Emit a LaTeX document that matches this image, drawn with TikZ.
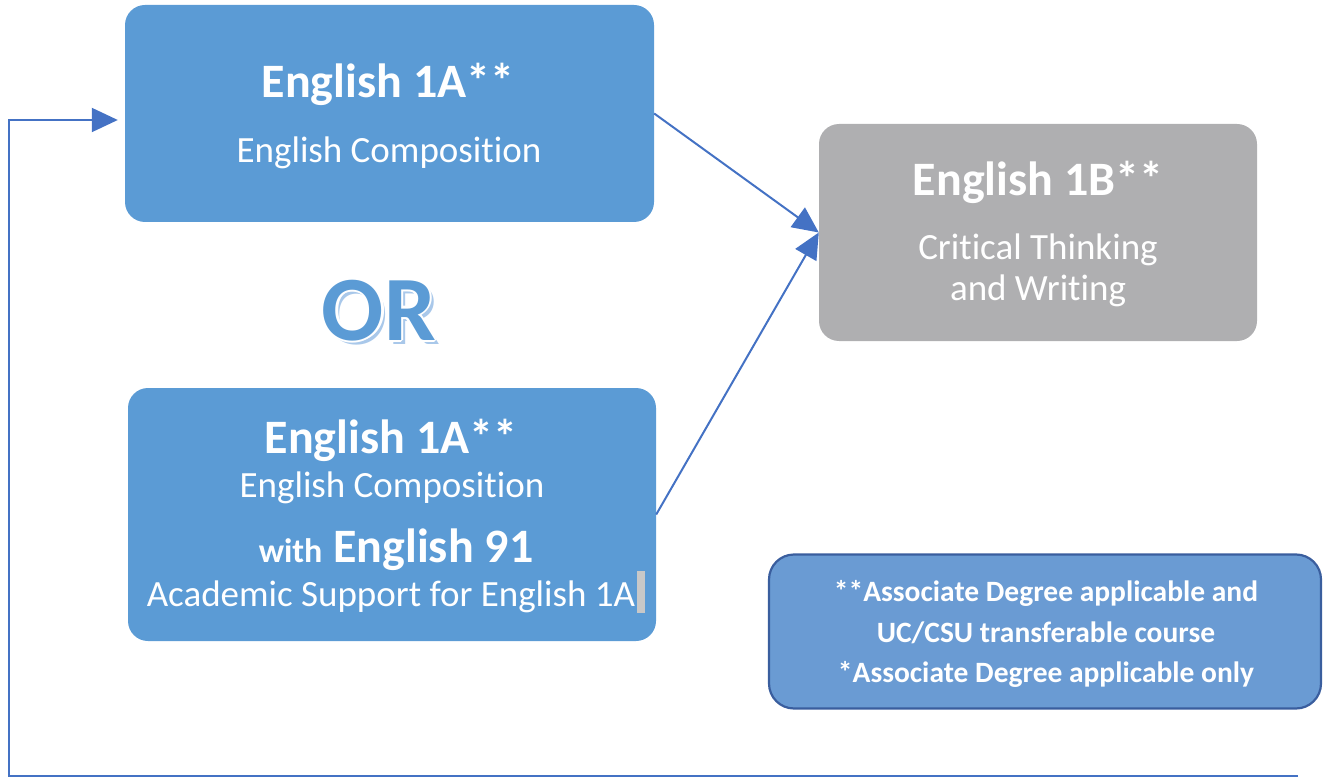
\documentclass[tikz,border=0pt]{standalone}
\usepackage{fontspec}
\setmainfont{Carlito}[Ligatures=NoCommon]
\usepackage{tikz}
\usetikzlibrary{arrows.meta}

\definecolor{boxblue}{HTML}{5B9BD5}
\definecolor{boxgray}{HTML}{AFAFB1}
\definecolor{linkblue}{HTML}{4472C4}
\definecolor{legendblue}{HTML}{6A9BD3}
\definecolor{legendedge}{HTML}{3A5E9E}
\definecolor{orshade}{HTML}{A9C8EA}
\definecolor{cursorgray}{HTML}{C8C8C8}

\tikzset{
  course/.style={fill=boxblue, rounded corners=20pt, inner sep=0pt},
  boxtext/.style={text=white, inner sep=0pt, anchor=base},
  link/.style={draw=linkblue, line width=2pt, -{Triangle[length=26pt,width=24pt]}},
  ortext/.style={inner sep=0pt, anchor=base, font=\fontsize{92}{92}\bfseries}
}

\begin{document}
\begin{tikzpicture}[x=1pt,y=-1pt]
  \useasboundingbox (0,0) rectangle (1323,778);

  \node[course, minimum width=529pt, minimum height=217pt] (eng1a) at (389.5,113.5) {}; % English 1A box
  \node[course, fill=boxgray, minimum width=438pt, minimum height=217pt] (eng1b) at (1038,232.5) {}; % English 1B box
  \node[course, minimum width=528pt, minimum height=253pt] (eng1asup) at (392,514.5) {}; % English 1A + 91 box
  \node[draw=legendedge, fill=legendblue, line width=2.2pt, rounded corners=25pt,
        minimum width=552pt, minimum height=154pt, inner sep=0pt] (legend) at (1045,631.5) {}; % legend box

  \node[boxtext, font=\fontsize{48}{54}\bfseries] (eng1atitle) at (388,98) {English 1A**};
  \node[boxtext, font=\fontsize{37}{42}\selectfont] (eng1aname) at (389,163) {English Composition};

  \node[boxtext, font=\fontsize{48}{54}\bfseries] (eng1btitle) at (1038,196) {English 1B**};
  \node[boxtext, font=\fontsize{37}{42}\selectfont] (eng1bname) at (1038,260) {Critical Thinking};
  \node[boxtext, font=\fontsize{37}{42}\selectfont] (eng1bname2) at (1038,300) {and Writing};

  \node[boxtext, font=\fontsize{48}{54}\bfseries] (suptitle) at (391,453) {English 1A**};
  \node[boxtext, font=\fontsize{37}{42}\selectfont] (supname) at (392,497) {English Composition};
  \node[boxtext, font=\fontsize{48}{54}\bfseries] (supwith) at (396,562) {{\fontsize{34}{38}\selectfont with} English 91};
  \node[boxtext, font=\fontsize{37}{42}\selectfont] (supname2) at (391,606) {Academic Support for English 1A};
  \fill[cursorgray] (637,571) rectangle (645,613); % selection mark

  \node[boxtext, font=\fontsize{29.5}{33}\bfseries] (legend1) at (1046,601) {**Associate Degree applicable and};
  \node[boxtext, font=\fontsize{29.5}{33}\bfseries] (legend2) at (1046,642) {UC/CSU transferable course};
  \node[boxtext, font=\fontsize{29.5}{33}\bfseries] (legend3) at (1046,682) {*Associate Degree applicable only};

  % OR with shadow and white rim
  \node[ortext, text=orshade] (orshadow) at (383,344) {OR};
  \foreach \dx/\dy [count=\i] in {2.5/0,-2.5/0,0/2.5,0/-2.5,1.8/1.8,-1.8/1.8,1.8/-1.8,-1.8/-1.8}
    \node[ortext, text=white] (orrim\i) at (379+\dx,340+\dy) {OR};
  \node[ortext, text=boxblue] (ortitle) at (379,340) {OR};

  \draw[link] (eng1a.east) -- (eng1b.west);
  \draw[link] (eng1asup.east) -- (eng1b.west);

  \coordinate (loopcorner) at (9,776);
  \coordinate (loopend) at (1298,776);
  \draw[link] (loopend) -- (loopcorner) |- ([yshift=-6.5pt]eng1a.west) [shorten >=7pt];
\end{tikzpicture}
\end{document}
